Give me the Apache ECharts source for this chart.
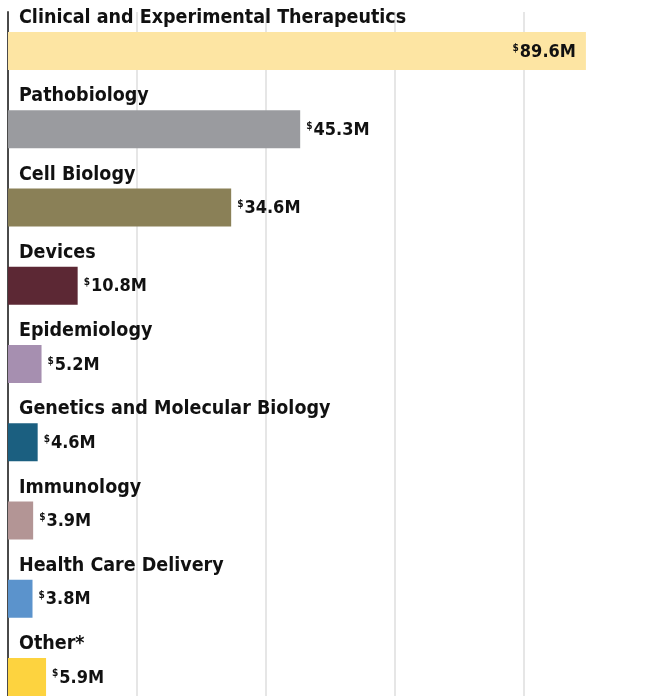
<!DOCTYPE html>
<html><head><meta charset="utf-8">
<script src="https://cdn.jsdelivr.net/npm/echarts@6/dist/echarts.min.js"></script>
<style>html,body{margin:0;padding:0;background:#fff}#c{width:648px;height:696px}</style>
</head><body><div id="c"></div>
<script>
const categories = ["Clinical and Experimental Therapeutics","Pathobiology","Cell Biology","Devices","Epidemiology","Genetics and Molecular Biology","Immunology","Health Care Delivery","Other*"];
const values = [89.6, 45.3, 34.6, 10.8, 5.2, 4.6, 3.9, 3.8, 5.9];
const colors = ["#fde5a3","#9a9b9f","#8a8057","#5c2834","#a68fb0","#1b5f80","#b39595","#5b93cc","#fdd33f"];
const xTicks = [0, 20, 40, 60, 80, 100];

const FONT = '"Liberation Sans Narrow","DejaVu Sans Condensed",sans-serif';
const chart = echarts.init(document.getElementById('c'));
chart.setOption({
  animation:false,
  grid:{left:8, width:645, top:12, height:704, containLabel:false, outerBoundsMode:'none'},
  xAxis:{type:'value', min:xTicks[0], max:xTicks[xTicks.length-1], interval:20,
    axisLabel:{show:false}, axisLine:{show:false}, axisTick:{show:false},
    splitLine:{show:true, lineStyle:{color:'#e6e6e6', width:2}}},
  yAxis:{type:'category', inverse:true, data:categories,
    axisLabel:{show:false}, axisTick:{show:false},
    axisLine:{show:true, lineStyle:{color:'#4a4a4a', width:2}}},
  series:[
    {type:'bar', barWidth:38, data:values.map((v,i)=>({value:v, itemStyle:{color:colors[i]},
      label:{position: i===0 ? 'insideRight' : 'right', distance: i===0 ? 10 : 6}})),
     label:{show:true, formatter:p=>'{s|$}{v|'+p.value.toFixed(1)+'M}',
       rich:{s:{fontSize:10, fontFamily:FONT, fontWeight:'bold', color:'#111', verticalAlign:'top', padding:[2,1,8,0]},
             v:{fontSize:18, fontFamily:FONT, fontWeight:'bold', color:'#111', padding:[2,0,0,0]}}}},
    {type:'bar', barWidth:38, barGap:'-100%', silent:true, data:values,
     itemStyle:{color:'rgba(0,0,0,0)'},
     label:{show:true, position:[11,-4], verticalAlign:'bottom', align:'left',
       formatter:p=>categories[p.dataIndex], fontSize:19.5, fontFamily:FONT, fontWeight:'bold', color:'#111'}}
  ]
});
</script></body></html>
